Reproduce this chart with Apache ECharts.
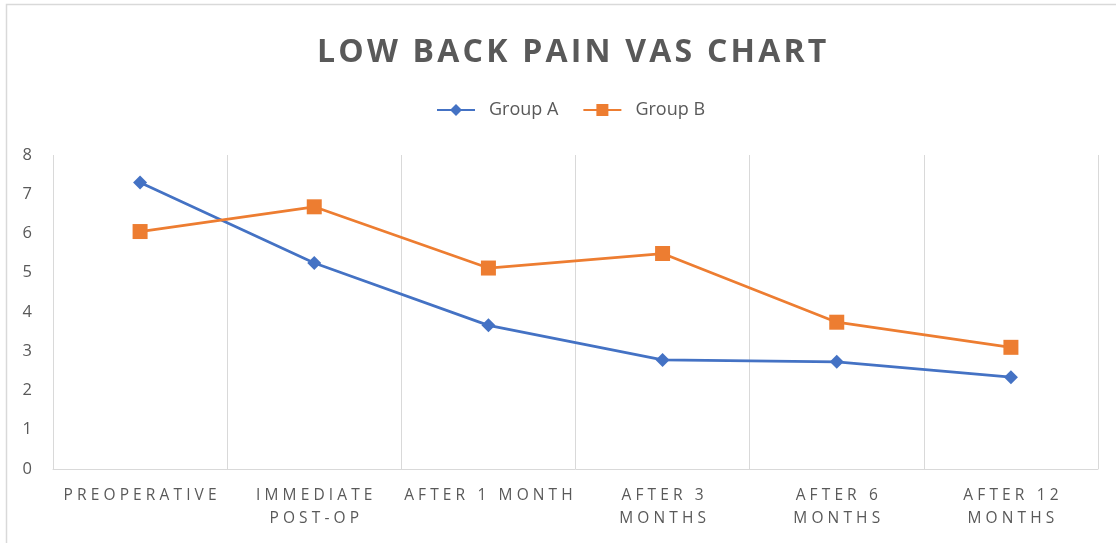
<!DOCTYPE html>
<html>
<head>
<meta charset="utf-8">
<script src="https://cdn.jsdelivr.net/npm/echarts@6/dist/echarts.min.js"></script>
<style>
html,body{margin:0;padding:0;background:#fff;}
#chart{width:1116px;height:543px;}
</style>
</head>
<body>
<div id="chart"></div>
<script>
var categories = ["PREOPERATIVE", "IMMEDIATE\nPOST-OP", "AFTER 1 MONTH", "AFTER 3\nMONTHS", "AFTER 6\nMONTHS", "AFTER 12\nMONTHS"];
var groupA = [7.3, 5.25, 3.66, 2.78, 2.73, 2.34];
var groupB = [6.05, 6.68, 5.12, 5.49, 3.74, 3.1];
var yTicks = [0, 1, 2, 3, 4, 5, 6, 7, 8];
var chartTitle = "LOW BACK PAIN VAS CHART";

function spaced(s, sep) {
  return s.split("\n").map(function (line) {
    return line.split("").join(sep);
  }).join("\n");
}

var chart = echarts.init(document.getElementById("chart"));
chart.setOption({
  backgroundColor: "#fff",
  animation: false,
  textStyle: { fontFamily: "Open Sans" },
  graphic: [{
    type: "rect",
    shape: { x: 6.5, y: 4.5, width: 1200, height: 600 },
    style: { fill: "none", stroke: "#d9d9d9", lineWidth: 1.5 },
    silent: true
  }],
  title: {
    text: spaced(chartTitle, "\u200A"),
    left: 312,
    top: 32,
    textStyle: { fontFamily: "Open Sans", fontWeight: "bold", fontSize: 32, color: "#595959" }
  },
  legend: {
    top: 96,
    left: 431,
    itemWidth: 38,
    itemHeight: 15,
    itemGap: 24,
    textStyle: { fontSize: 18, color: "#595959", fontFamily: "Open Sans", padding: [0, 0, 0, 9] },
    data: ["Group A", "Group B"]
  },
  grid: { left: 53, right: 18, top: 155, bottom: 74, containLabel: false },
  xAxis: {
    type: "category",
    data: categories,
    boundaryGap: true,
    axisLine: { show: true, lineStyle: { color: "#d9d9d9", width: 1 } },
    axisTick: { show: false },
    splitLine: { show: true, lineStyle: { color: "#d9d9d9", width: 1 } },
    axisLabel: {
      interval: 0,
      margin: 15,
      fontSize: 15.5,
      lineHeight: 23,
      color: "#595959",
      fontFamily: "Open Sans",
      formatter: function (v) { return spaced(v, "\u2009\u200A"); }
    }
  },
  yAxis: {
    type: "value",
    min: yTicks[0],
    max: yTicks[yTicks.length - 1],
    interval: 1,
    axisLine: { show: false },
    axisTick: { show: false },
    splitLine: { show: false },
    axisLabel: { fontSize: 16.5, color: "#595959", margin: 21, fontFamily: "Open Sans" }
  },
  series: [
    {
      name: "Group A",
      type: "line",
      data: groupA,
      symbol: "diamond",
      symbolSize: 14,
      color: "#4472C4",
      lineStyle: { width: 2.75, color: "#4472C4" },
      itemStyle: { color: "#4472C4" }
    },
    {
      name: "Group B",
      type: "line",
      data: groupB,
      symbol: "rect",
      symbolSize: 15,
      color: "#ED7D31",
      lineStyle: { width: 2.75, color: "#ED7D31" },
      itemStyle: { color: "#ED7D31" }
    }
  ]
});
</script>
</body>
</html>
